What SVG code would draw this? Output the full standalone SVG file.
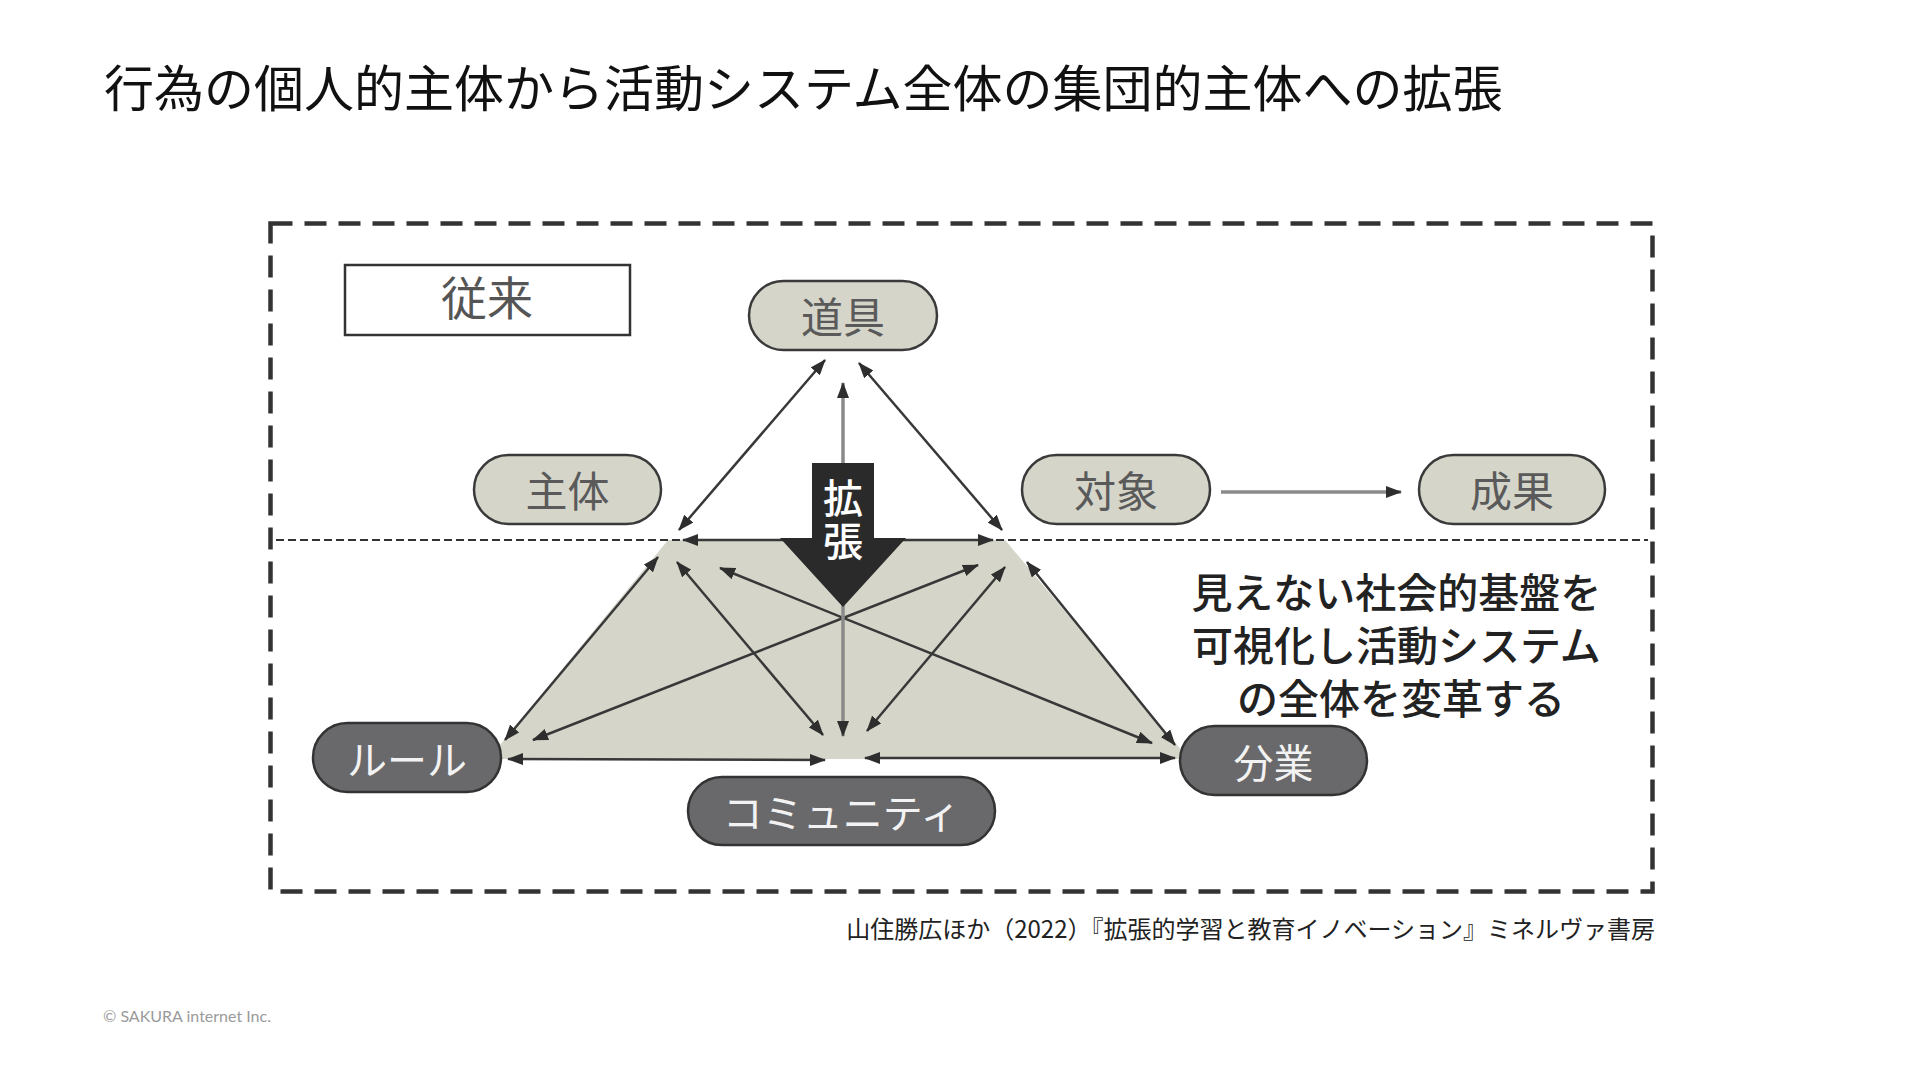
<svg xmlns="http://www.w3.org/2000/svg" width="1920" height="1080" viewBox="0 0 1920 1080">
<style>
.jp{font-family:"Noto Sans CJK JP","Noto Sans",sans-serif}
.pill{fill:#d5d5ca;stroke:#3a3a3a;stroke-width:2.5}
.dpill{fill:#69696c;stroke:#333;stroke-width:2.5}
.ptxt{font-size:42px;fill:#5a5a5a;text-anchor:middle;dominant-baseline:central}
.dtxt{font-size:40px;fill:#f2f2f2;text-anchor:middle;dominant-baseline:central}
.arr{stroke:#383838;stroke-width:2.5;fill:none;marker-start:url(#ah);marker-end:url(#ah)}
.garr{stroke:#8a8a8a;stroke-width:3.5;fill:none;marker-end:url(#ah)}
</style>
<defs>
<marker id="ah" viewBox="0 0 16 12" refX="15" refY="6" markerWidth="16" markerHeight="12" markerUnits="userSpaceOnUse" orient="auto-start-reverse">
<path d="M0,0 L16,6 L0,12 Z" fill="#2e2e2e"/>
</marker>
</defs>
<rect width="1920" height="1080" fill="#ffffff"/>
<text class="jp" x="104" y="85" font-size="50" fill="#111" dominant-baseline="central">行為の個人的主体から活動システム全体の集団的主体への拡張</text>

<g id="frame">
<rect x="270.5" y="223.5" width="1382" height="668" fill="none" stroke="#333" stroke-width="4.5" stroke-dasharray="22 12"/>
</g>
<g id="shade">
<polygon points="668,540 1005,540 1183,752 1183,759 500,759 500,745" fill="#d5d5ca"/>
</g>
<g id="divider">
<line x1="276" y1="540" x2="1648" y2="540" stroke="#333" stroke-width="1.8" stroke-dasharray="8 4"/>
</g>

<g id="label-conventional">
<rect x="345" y="265" width="285" height="70" fill="#fff" stroke="#333" stroke-width="2.5"/>
<text class="jp" x="487" y="295" font-size="46" fill="#555" text-anchor="middle" dominant-baseline="central">従来</text>
</g>

<g id="connectors">
<line class="arr" x1="825" y1="360" x2="679" y2="530"/>
<line class="arr" x1="859" y1="363" x2="1002" y2="530"/>
<line class="arr" x1="683" y1="540" x2="993" y2="540"/>
<line class="arr" x1="505" y1="740" x2="658" y2="557"/>
<line class="arr" x1="677" y1="562" x2="823" y2="735"/>
<line class="arr" x1="720" y1="568" x2="1152" y2="743"/>
<line class="arr" x1="533" y1="740" x2="978" y2="565" stroke-width="3.5"/>
<line class="arr" x1="867" y1="731" x2="1005" y2="567"/>
<line class="arr" x1="1027" y1="562" x2="1175" y2="745"/>
<line class="arr" x1="508" y1="759" x2="825" y2="760" stroke="#5a5a5a" stroke-width="3"/>
<line class="arr" x1="865" y1="758" x2="1175" y2="758" stroke="#7a7a7a" stroke-width="3"/>
<line class="garr" x1="843" y1="463" x2="843" y2="383"/>
<line class="garr" x1="843" y1="600" x2="843" y2="736"/>
<line class="garr" x1="1221" y1="492" x2="1401" y2="492" stroke-width="4"/>
</g>

<g id="expansion">
<path d="M812,463 H874 V538 H906 L843,607 L780,538 H812 Z" fill="#2a2a2a"/>
<text class="jp" x="843" y="496" font-size="40" font-weight="500" fill="#fff" text-anchor="middle" dominant-baseline="central">拡</text>
<text class="jp" x="843" y="539" font-size="40" font-weight="500" fill="#fff" text-anchor="middle" dominant-baseline="central">張</text>
</g>

<g id="node-tool">
<rect class="pill" x="749" y="281" width="188" height="69" rx="34.5"/>
<text class="jp ptxt" x="843" y="314">道具</text>
</g>
<g id="node-subject">
<rect class="pill" x="474" y="455" width="187" height="69" rx="34.5"/>
<text class="jp ptxt" x="567.5" y="488">主体</text>
</g>
<g id="node-object">
<rect class="pill" x="1022" y="455" width="188" height="69" rx="34.5"/>
<text class="jp ptxt" x="1116" y="488">対象</text>
</g>
<g id="node-outcome">
<rect class="pill" x="1419" y="455" width="186" height="69" rx="34.5"/>
<text class="jp ptxt" x="1512" y="488">成果</text>
</g>
<g id="node-rules">
<rect class="dpill" x="313" y="723" width="188" height="69" rx="34.5"/>
<text class="jp dtxt" x="407" y="757.5">ルール</text>
</g>
<g id="node-division">
<rect class="dpill" x="1180" y="726" width="187" height="69" rx="34.5"/>
<text class="jp dtxt" x="1273.5" y="760.5">分業</text>
</g>
<g id="node-community">
<rect class="dpill" x="688" y="777" width="307" height="68" rx="34"/>
<text class="jp dtxt" x="841.5" y="811">コミュニティ</text>
</g>

<g id="note">
<text class="jp" font-size="41" font-weight="500" fill="#222" text-anchor="middle" dominant-baseline="central">
<tspan x="1401" y="590">見えない社会的基盤を</tspan>
<tspan x="1401" y="643">可視化し活動システム</tspan>
<tspan x="1401" y="696">の全体を変革する</tspan>
</text>
</g>

<text class="jp" x="1655" y="927" font-size="24" fill="#222" text-anchor="end" dominant-baseline="central">山住勝広ほか（2022）『拡張的学習と教育イノベーション』ミネルヴァ書房</text>
<text x="103" y="1015" font-family="Lato, 'Open Sans', sans-serif" font-size="16" fill="#9a9a9a" dominant-baseline="central">© SAKURA internet Inc.</text>
</svg>
